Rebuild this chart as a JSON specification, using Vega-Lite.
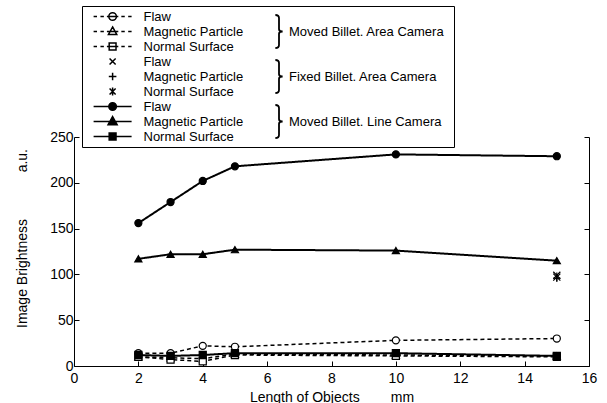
{
  "$schema": "https://vega.github.io/schema/vega-lite/v6.json",
  "width": 515,
  "height": 229,
  "autosize": {"type": "none"},
  "padding": {"left": 74, "top": 137, "right": 18, "bottom": 37},
  "background": "white",
  "config": {
    "font": "Liberation Sans",
    "view": {"stroke": null},
    "axis": {"grid": false}
  },
  "data": {
    "values": [
      {"len": 2, "val": 14, "series": "Flaw|MA", "group": "Moved Billet. Area Camera"},
      {"len": 3, "val": 14, "series": "Flaw|MA", "group": "Moved Billet. Area Camera"},
      {"len": 4, "val": 22, "series": "Flaw|MA", "group": "Moved Billet. Area Camera"},
      {"len": 5, "val": 21, "series": "Flaw|MA", "group": "Moved Billet. Area Camera"},
      {"len": 10, "val": 28, "series": "Flaw|MA", "group": "Moved Billet. Area Camera"},
      {"len": 15, "val": 30, "series": "Flaw|MA", "group": "Moved Billet. Area Camera"},
      {"len": 2, "val": 10, "series": "Magnetic Particle|MA", "group": "Moved Billet. Area Camera"},
      {"len": 3, "val": 9, "series": "Magnetic Particle|MA", "group": "Moved Billet. Area Camera"},
      {"len": 4, "val": 8, "series": "Magnetic Particle|MA", "group": "Moved Billet. Area Camera"},
      {"len": 5, "val": 13, "series": "Magnetic Particle|MA", "group": "Moved Billet. Area Camera"},
      {"len": 10, "val": 12, "series": "Magnetic Particle|MA", "group": "Moved Billet. Area Camera"},
      {"len": 15, "val": 11, "series": "Magnetic Particle|MA", "group": "Moved Billet. Area Camera"},
      {"len": 2, "val": 10, "series": "Normal Surface|MA", "group": "Moved Billet. Area Camera"},
      {"len": 3, "val": 7, "series": "Normal Surface|MA", "group": "Moved Billet. Area Camera"},
      {"len": 4, "val": 5, "series": "Normal Surface|MA", "group": "Moved Billet. Area Camera"},
      {"len": 5, "val": 12, "series": "Normal Surface|MA", "group": "Moved Billet. Area Camera"},
      {"len": 10, "val": 11, "series": "Normal Surface|MA", "group": "Moved Billet. Area Camera"},
      {"len": 15, "val": 10, "series": "Normal Surface|MA", "group": "Moved Billet. Area Camera"},
      {"len": 15, "val": 99, "series": "Flaw|FA", "group": "Fixed Billet. Area Camera"},
      {"len": 15, "val": 96, "series": "Magnetic Particle|FA", "group": "Fixed Billet. Area Camera"},
      {"len": 15, "val": 97, "series": "Normal Surface|FA", "group": "Fixed Billet. Area Camera"},
      {"len": 2, "val": 156, "series": "Flaw|ML", "group": "Moved Billet. Line Camera"},
      {"len": 3, "val": 179, "series": "Flaw|ML", "group": "Moved Billet. Line Camera"},
      {"len": 4, "val": 202, "series": "Flaw|ML", "group": "Moved Billet. Line Camera"},
      {"len": 5, "val": 218, "series": "Flaw|ML", "group": "Moved Billet. Line Camera"},
      {"len": 10, "val": 231, "series": "Flaw|ML", "group": "Moved Billet. Line Camera"},
      {"len": 15, "val": 229, "series": "Flaw|ML", "group": "Moved Billet. Line Camera"},
      {"len": 2, "val": 117, "series": "Magnetic Particle|ML", "group": "Moved Billet. Line Camera"},
      {"len": 3, "val": 122, "series": "Magnetic Particle|ML", "group": "Moved Billet. Line Camera"},
      {"len": 4, "val": 122, "series": "Magnetic Particle|ML", "group": "Moved Billet. Line Camera"},
      {"len": 5, "val": 127, "series": "Magnetic Particle|ML", "group": "Moved Billet. Line Camera"},
      {"len": 10, "val": 126, "series": "Magnetic Particle|ML", "group": "Moved Billet. Line Camera"},
      {"len": 15, "val": 115, "series": "Magnetic Particle|ML", "group": "Moved Billet. Line Camera"},
      {"len": 2, "val": 12, "series": "Normal Surface|ML", "group": "Moved Billet. Line Camera"},
      {"len": 3, "val": 11, "series": "Normal Surface|ML", "group": "Moved Billet. Line Camera"},
      {"len": 4, "val": 12, "series": "Normal Surface|ML", "group": "Moved Billet. Line Camera"},
      {"len": 5, "val": 14, "series": "Normal Surface|ML", "group": "Moved Billet. Line Camera"},
      {"len": 10, "val": 14, "series": "Normal Surface|ML", "group": "Moved Billet. Line Camera"},
      {"len": 15, "val": 11, "series": "Normal Surface|ML", "group": "Moved Billet. Line Camera"}
    ]
  },
  "layer": [
    {
      "transform": [{"filter": "datum.group != 'Fixed Billet. Area Camera'"}],
      "mark": {"type": "line", "color": "black"},
      "encoding": {
        "x": {
          "field": "len", "type": "quantitative",
          "scale": {"domain": [0, 16], "nice": false, "zero": false},
          "axis": {
            "values": [0, 2, 4, 6, 8, 10, 12, 14, 16],
            "tickSize": -5, "labelPadding": 10, "labelFlush": false, "labelOverlap": false,
            "domainColor": "black", "tickColor": "black", "labelColor": "black",
            "labelFontSize": 14, "titleFontSize": 14, "titleFontWeight": "normal", "titleColor": "black",
            "titlePadding": 5,
            "title": "\u00a0\u00a0\u00a0Length of Objects\u00a0\u00a0\u00a0\u00a0\u00a0\u00a0\u00a0\u00a0mm"
          }
        },
        "y": {
          "field": "val", "type": "quantitative",
          "scale": {"domain": [0, 250], "nice": false},
          "axis": {
            "orient": "left",
            "values": [0, 50, 100, 150, 200, 250],
            "tickSize": -5, "labelPadding": 6, "labelFlush": false, "labelOverlap": false,
            "domainColor": "black", "tickColor": "black", "labelColor": "black",
            "labelFontSize": 14, "titleFontSize": 14, "titleFontWeight": "normal", "titleColor": "black",
            "titlePadding": 20, "titleY": 101,
            "title": "Image Brightness\u00a0\u00a0\u00a0\u00a0\u00a0\u00a0\u00a0\u00a0\u00a0\u00a0\u00a0\u00a0a.u."
          }
        },
        "detail": {"field": "series"},
        "strokeDash": {
          "field": "group", "type": "nominal", "legend": null,
          "scale": {"domain": ["Moved Billet. Area Camera", "Moved Billet. Line Camera"], "range": [[4, 3], [1, 0]]}
        },
        "strokeWidth": {
          "field": "group", "type": "nominal", "legend": null,
          "scale": {"domain": ["Moved Billet. Area Camera", "Moved Billet. Line Camera"], "range": [1.5, 2]}
        }
      }
    },
    {
      "mark": {"type": "point", "color": "black", "strokeWidth": 1.2, "opacity": 1},
      "encoding": {
        "x": {"field": "len", "type": "quantitative"},
        "y": {
          "field": "val", "type": "quantitative",
          "axis": {
            "orient": "right", "labels": false, "title": null,
            "values": [0, 50, 100, 150, 200, 250],
            "tickSize": -5, "domainColor": "black", "tickColor": "black"
          }
        },
        "shape": {
          "field": "series", "type": "nominal", "legend": null,
          "scale": {
            "domain": ["Flaw|MA", "Magnetic Particle|MA", "Normal Surface|MA", "Flaw|FA", "Magnetic Particle|FA", "Normal Surface|FA", "Flaw|ML", "Magnetic Particle|ML", "Normal Surface|ML"],
            "range": ["circle", "triangle-up", "square", "M-1,-1L1,1M-1,1L1,-1", "M-1,0H1M0,-1V1", "M-1,-1L1,1M-1,1L1,-1M0,-1.3V1.3", "circle", "triangle-up", "square"]
          }
        },
        "fill": {
          "field": "series", "type": "nominal", "legend": null,
          "scale": {
            "domain": ["Flaw|MA", "Magnetic Particle|MA", "Normal Surface|MA", "Flaw|FA", "Magnetic Particle|FA", "Normal Surface|FA", "Flaw|ML", "Magnetic Particle|ML", "Normal Surface|ML"],
            "range": ["white", "white", "white", "black", "black", "black", "black", "black", "black"]
          }
        },
        "size": {
          "field": "series", "type": "nominal", "legend": null,
          "scale": {
            "domain": ["Flaw|MA", "Magnetic Particle|MA", "Normal Surface|MA", "Flaw|FA", "Magnetic Particle|FA", "Normal Surface|FA", "Flaw|ML", "Magnetic Particle|ML", "Normal Surface|ML"],
            "range": [50, 50, 50, 9, 10, 9, 70, 75, 65]
          }
        }
      }
    },
    {
      "mark": {"type": "point", "color": "black", "opacity": 0},
      "encoding": {
        "shape": {
          "field": "series", "type": "nominal",
          "scale": {
            "domain": ["Flaw|MA", "Magnetic Particle|MA", "Normal Surface|MA", "Flaw|FA", "Magnetic Particle|FA", "Normal Surface|FA", "Flaw|ML", "Magnetic Particle|ML", "Normal Surface|ML"],
            "range": [
              "M-0.6,0H-0.42M-0.24,0H-0.06M0.1,0H0.7M0.86,0H1.04M1.22,0H1.4M0.6,0A0.2,0.2,0,1,1,0.2,0A0.2,0.2,0,1,1,0.6,0Z",
              "M-0.6,0H-0.42M-0.24,0H-0.06M0.1,0H0.7M0.86,0H1.04M1.22,0H1.4M0.4,-0.24L0.62,0.16L0.18,0.16Z",
              "M-0.6,0H-0.42M-0.24,0H-0.06M0.1,0H0.7M0.86,0H1.04M1.22,0H1.4M0.22,-0.18H0.58V0.18H0.22Z",
              "M0.24,-0.16L0.56,0.16M0.24,0.16L0.56,-0.16",
              "M0.2,0H0.6M0.4,-0.2V0.2",
              "M0.24,-0.16L0.56,0.16M0.24,0.16L0.56,-0.16M0.4,-0.21V0.21",
              "M-0.6,0H1.4M0.6,0A0.2,0.2,0,1,1,0.2,0A0.2,0.2,0,1,1,0.6,0Z",
              "M-0.6,0H1.4M0.4,-0.26L0.64,0.17L0.16,0.17Z",
              "M-0.6,0H1.4M0.22,-0.18H0.58V0.18H0.22Z"
            ]
          },
          "legend": {
            "title": null, "orient": "none", "legendX": 8, "legendY": -131,
            "strokeColor": "black", "fillColor": "white", "padding": 3, "cornerRadius": 0,
            "symbolSize": 1444, "symbolStrokeWidth": 1.5, "symbolStrokeColor": "black", "symbolOpacity": 1,
            "symbolOffset": 0, "labelOffset": 18.5, "clipHeight": 15, "rowPadding": 0,
            "labelFont": "Liberation Sans", "labelFontSize": 13, "labelColor": "black", "labelLimit": 500,
            "labelExpr": "datum.label == 'Normal Surface|ML' ? 'Normal Surface' + '\u00a0\u00a0\u00a0\u00a0\u00a0\u00a0\u00a0\u00a0\u00a0\u00a0\u00a0\u00a0\u00a0\u00a0\u00a0\u00a0\u00a0\u00a0\u00a0\u00a0\u00a0\u00a0\u00a0\u00a0\u00a0\u00a0\u00a0\u00a0\u00a0\u00a0\u00a0\u00a0\u00a0\u00a0\u00a0\u00a0\u00a0\u00a0\u00a0\u00a0\u00a0\u00a0\u00a0\u00a0\u00a0\u00a0\u00a0\u00a0\u00a0\u00a0\u00a0\u00a0\u00a0\u00a0\u00a0\u00a0\u00a0\u00a0\u00a0\u00a0\u200b' : split(datum.label, '|')[0]",
            "encode": {"symbols": {"update": {"stroke": {"value": "black"}, "strokeWidth": {"value": 1.5}, "opacity": {"value": 1}}}}
          }
        },
        "fill": {
          "field": "series", "type": "nominal",
          "scale": {
            "domain": ["Flaw|MA", "Magnetic Particle|MA", "Normal Surface|MA", "Flaw|FA", "Magnetic Particle|FA", "Normal Surface|FA", "Flaw|ML", "Magnetic Particle|ML", "Normal Surface|ML"],
            "range": ["white", "white", "white", "black", "black", "black", "black", "black", "black"]
          },
          "legend": {
            "title": null, "orient": "none", "legendX": 8, "legendY": -131,
            "strokeColor": "black", "fillColor": "white", "padding": 3, "cornerRadius": 0,
            "symbolSize": 1444, "symbolStrokeWidth": 1.5, "symbolStrokeColor": "black", "symbolOpacity": 1,
            "symbolOffset": 0, "labelOffset": 18.5, "clipHeight": 15, "rowPadding": 0,
            "labelFont": "Liberation Sans", "labelFontSize": 13, "labelColor": "black", "labelLimit": 500,
            "labelExpr": "datum.label == 'Normal Surface|ML' ? 'Normal Surface' + '\u00a0\u00a0\u00a0\u00a0\u00a0\u00a0\u00a0\u00a0\u00a0\u00a0\u00a0\u00a0\u00a0\u00a0\u00a0\u00a0\u00a0\u00a0\u00a0\u00a0\u00a0\u00a0\u00a0\u00a0\u00a0\u00a0\u00a0\u00a0\u00a0\u00a0\u00a0\u00a0\u00a0\u00a0\u00a0\u00a0\u00a0\u00a0\u00a0\u00a0\u00a0\u00a0\u00a0\u00a0\u00a0\u00a0\u00a0\u00a0\u00a0\u00a0\u00a0\u00a0\u00a0\u00a0\u00a0\u00a0\u00a0\u00a0\u00a0\u00a0\u200b' : split(datum.label, '|')[0]",
            "encode": {"symbols": {"update": {"stroke": {"value": "black"}, "strokeWidth": {"value": 1.5}, "opacity": {"value": 1}}}}
          }
        }
      }
    },
    {
      "mark": {"type": "point", "color": "black", "opacity": 0},
      "encoding": {
        "shape": {
          "field": "group", "type": "nominal",
          "scale": {
            "domain": ["Moved Billet. Area Camera", "Fixed Billet. Area Camera", "Moved Billet. Line Camera"],
            "range": [
              "M-0.22,-1Q0,-1,0,-0.82L0,-0.14Q0,0,0.22,0Q0,0,0,0.14L0,0.82Q0,1,-0.22,1",
              "M-0.22,-1Q0,-1,0,-0.82L0,-0.14Q0,0,0.22,0Q0,0,0,0.14L0,0.82Q0,1,-0.22,1",
              "M-0.22,-1Q0,-1,0,-0.82L0,-0.14Q0,0,0.22,0Q0,0,0,0.14L0,0.82Q0,1,-0.22,1"
            ]
          },
          "legend": {
            "title": null, "orient": "none", "legendX": 185.5, "legendY": -128,
            "padding": 0, "symbolSize": 1089, "symbolStrokeWidth": 1.8, "symbolStrokeColor": "black",
            "symbolFillColor": "transparent", "symbolOpacity": 1,
            "symbolOffset": 2, "labelOffset": -7.5, "clipHeight": 45, "rowPadding": 0,
            "labelFont": "Liberation Sans", "labelFontSize": 13, "labelColor": "black", "labelLimit": 500
          }
        }
      }
    }
  ],
  "resolve": {
    "scale": {"shape": "independent", "fill": "independent", "size": "independent"},
    "axis": {"y": "independent"}
  }
}
